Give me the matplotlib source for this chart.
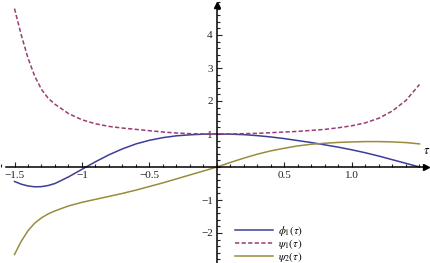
import matplotlib
matplotlib.use("Agg")
import matplotlib.pyplot as plt
from matplotlib.ticker import MultipleLocator, FixedLocator, FixedFormatter

# valores
tau = [-1.5, -1.45, -1.4, -1.35, -1.3, -1.25, -1.2, -1.1, -1.0, -0.9, -0.8,
       -0.7, -0.6, -0.5, -0.4, -0.3, -0.2, -0.1, 0.0, 0.1, 0.2, 0.3, 0.4,
       0.5, 0.6, 0.7, 0.8, 0.9, 1.0, 1.1, 1.2, 1.3, 1.4, 1.5]

phi1 = [-0.44, -0.52, -0.575, -0.60, -0.595, -0.56, -0.50, -0.30, -0.07, 0.16,
        0.37, 0.55, 0.70, 0.81, 0.89, 0.945, 0.975, 0.995, 1.0, 0.995, 0.98,
        0.95, 0.91, 0.86, 0.80, 0.74, 0.67, 0.60, 0.52, 0.43, 0.33, 0.22,
        0.11, 0.0]

psi1 = [4.80, 4.00, 3.30, 2.75, 2.35, 2.08, 1.90, 1.62, 1.43, 1.31, 1.23,
        1.18, 1.14, 1.10, 1.06, 1.03, 1.01, 1.0, 1.0, 1.0, 1.01, 1.02, 1.04,
        1.06, 1.08, 1.11, 1.14, 1.19, 1.25, 1.34, 1.48, 1.70, 2.02, 2.50]

psi2 = [-2.65, -2.25, -1.93, -1.70, -1.54, -1.42, -1.33, -1.18, -1.07, -0.98,
        -0.89, -0.80, -0.70, -0.59, -0.48, -0.36, -0.24, -0.12, 0.0, 0.14,
        0.27, 0.39, 0.49, 0.57, 0.64, 0.69, 0.72, 0.745, 0.76, 0.77, 0.77,
        0.76, 0.74, 0.70]

xticks = [-1.5, -1.0, -0.5, 0.5, 1.0]
xlabels = ["\u22121.5", "\u22121", "\u22120.5", "0.5", "1.0"]
yticks = [-2, -1, 1, 2, 3, 4]
ylabels = ["\u22122", "\u22121", "1", "2", "3", "4"]

plt.rcParams["font.family"] = ["Liberation Serif", "DejaVu Serif"]
plt.rcParams["mathtext.fontset"] = "stix"

fig = plt.figure(figsize=(4.31, 2.63), dpi=100)
ax = fig.add_axes([0, 0, 1, 1])
ax.set_xlim(-217 / 135, 214 / 135)
ax.set_ylim(-96 / 33, 167 / 33)

ax.plot(tau, phi1, color="#3d3d99", lw=1.1, label=r"$\phi_1(\tau)$")
ax.plot(tau, psi1, color="#993d72", lw=1.1, dashes=(2.8, 1.5), label=r"$\psi_1(\tau)$")
ax.plot(tau, psi2, color="#998c3d", lw=1.1, label=r"$\psi_2(\tau)$")

# ejes cruzando en el origen, con flechas
ax.spines["left"].set_position("zero")
ax.spines["bottom"].set_position("zero")
ax.spines["right"].set_visible(False)
ax.spines["top"].set_visible(False)
ax.spines["bottom"].set_bounds(-1.56, 1.54)
ax.spines["left"].set_bounds(-96 / 33, 4.95)
for s in ("left", "bottom"):
    ax.spines[s].set_linewidth(1.1)
ax.plot(1.545, 0, ">k", ms=5, clip_on=False)
ax.plot(0, 0.982, "^k", ms=5, transform=ax.get_xaxis_transform(), clip_on=False)

ax.xaxis.set_major_locator(FixedLocator(xticks))
ax.xaxis.set_major_formatter(FixedFormatter(xlabels))
ax.xaxis.set_minor_locator(MultipleLocator(0.1))
ax.yaxis.set_major_locator(FixedLocator(yticks))
ax.yaxis.set_major_formatter(FixedFormatter(ylabels))
ax.yaxis.set_minor_locator(MultipleLocator(0.2))
ax.tick_params(which="both", direction="in", width=0.8, labelsize=8, colors="#222222")
ax.tick_params(which="major", length=3.5, pad=3)
ax.tick_params(which="minor", length=2)

ax.text(1.555, 0.3, r"$\tau$", fontsize=9, ha="center", va="bottom")

ax.legend(loc="upper left", bbox_to_anchor=(235 / 431, 1 - 224 / 263),
          frameon=False, fontsize=8, handlelength=3.4, handletextpad=0.5,
          labelspacing=-0.1, borderpad=0, borderaxespad=0)

plt.savefig("out.png", dpi=100)
plt.close()
